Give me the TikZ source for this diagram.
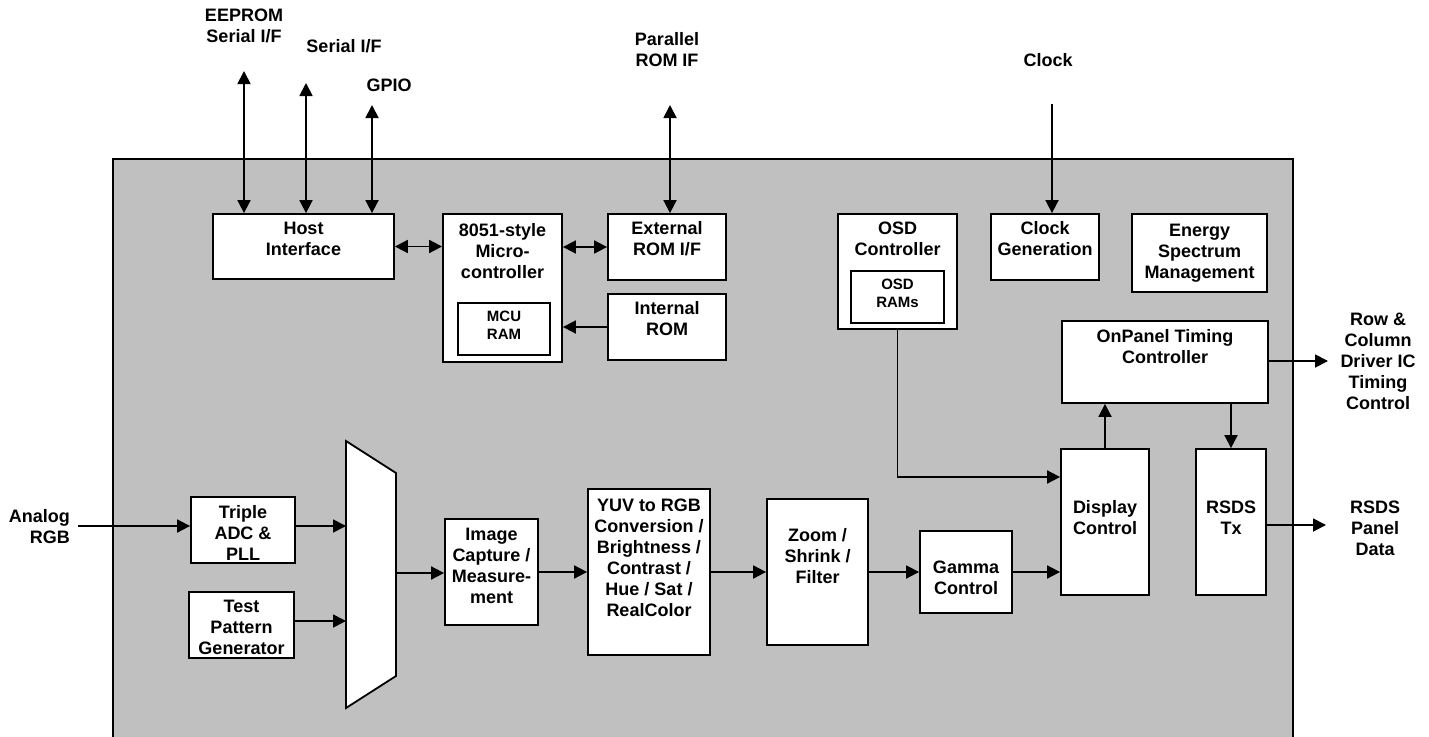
\documentclass[tikz,border=0pt]{standalone}
\usepackage{fontspec}
\setmainfont{Liberation Sans}
\usetikzlibrary{arrows.meta}
\definecolor{panelgray}{HTML}{C0C0C0}
\tikzset{
  box/.style={draw, line width=1.8pt, fill=white, inner sep=0pt},
  txt/.style={inner sep=0pt, align=center, font=\fontsize{18}{21}\selectfont\bfseries},
  smalltxt/.style={inner sep=0pt, align=center, font=\fontsize{15}{18}\selectfont\bfseries},
  arr/.style={line width=1.8pt, -{Triangle[length=13pt,width=13pt]}},
  darr/.style={line width=1.8pt, {Triangle[length=13pt,width=13pt]}-{Triangle[length=13pt,width=13pt]}},
  ln/.style={line width=1.8pt}
}
\begin{document}
\begin{tikzpicture}[x=1pt,y=-1pt]
\useasboundingbox (0,0) rectangle (1429,736);
\begin{scope}
\clip (0,0) rectangle (1429,736);
\draw[line width=1.8pt, fill=panelgray] (113,159) rectangle (1293,760);
\end{scope}

% boxes
\node[box, minimum width=181pt, minimum height=65pt] (host) at (303.5,246.5) {};
\node[box, minimum width=119pt, minimum height=148pt] (mcu) at (502.5,288) {};
\node[box, minimum width=92pt, minimum height=52pt] (mcuram) at (504,329) {};
\node[box, minimum width=118pt, minimum height=66pt] (extrom) at (667,247) {};
\node[box, minimum width=118pt, minimum height=66pt] (introm) at (667,327) {};
\node[box, minimum width=119pt, minimum height=115pt] (osd) at (897.5,271.5) {};
\node[box, minimum width=93pt, minimum height=52pt] (osdram) at (897.5,297) {};
\node[box, minimum width=108pt, minimum height=66pt] (clkgen) at (1045,247) {};
\node[box, minimum width=135pt, minimum height=78pt] (energy) at (1199.5,253) {};
\node[box, minimum width=206pt, minimum height=82pt] (onpanel) at (1165,362) {};
\node[box, minimum width=88pt, minimum height=146pt] (disp) at (1105,522) {};
\node[box, minimum width=70pt, minimum height=146pt] (rsds) at (1231,522) {};
\node[box, minimum width=122pt, minimum height=166pt] (yuv) at (649,572) {};
\node[box, minimum width=101pt, minimum height=146pt] (zoomb) at (817.5,572) {};
\node[box, minimum width=92pt, minimum height=82pt] (gamma) at (966,572) {};
\node[box, minimum width=93pt, minimum height=106pt] (image) at (491.5,572) {};
\node[box, minimum width=104pt, minimum height=66pt] (triple) at (243,530) {};
\node[box, minimum width=105pt, minimum height=66pt] (test) at (241.5,625) {};

% multiplexer
\draw[box] (346,441) -- (396,473) -- (396,676) -- (346,708) -- cycle;
\coordinate (muxin1) at (346,526);
\coordinate (muxin2) at (346,621);
\coordinate (muxout) at (396,573);

% texts inside boxes
\node[txt] (host-t) at (303.5,238.5) {Host\\Interface};
\node[txt] (mcu-t) at (502.5,251) {8051-style\\Micro-\\controller};
\node[smalltxt] (mcuram-t) at (504,325) {MCU\\RAM};
\node[txt] (extrom-t) at (667,238.5) {External\\ROM I/F};
\node[txt] (introm-t) at (667,318.5) {Internal\\ROM};
\node[txt] (osd-t) at (897.5,239) {OSD\\Controller};
\node[smalltxt] (osdram-t) at (897.5,293.5) {OSD\\RAMs};
\node[txt] (clkgen-t) at (1045,239) {Clock\\Generation};
\node[txt] (energy-t) at (1199.5,253) {Energy\\Spectrum\\Management};
\node[txt] (onpanel-t) at (1165,347) {OnPanel Timing\\Controller};
\node[txt] (disp-t) at (1105,518) {Display\\Control};
\node[txt] (rsds-t) at (1231,518) {RSDS\\Tx};
\node[txt] (yuv-t) at (649,558) {YUV to RGB\\Conversion /\\Brightness /\\Contrast /\\Hue / Sat /\\RealColor};
\node[txt] (zoomb-t) at (817.5,556) {Zoom /\\Shrink /\\Filter};
\node[txt] (gamma-t) at (966,578) {Gamma\\Control};
\node[txt] (image-t) at (491.5,566) {Image\\Capture /\\Measure-\\ment};
\node[txt] (triple-t) at (243,533) {Triple\\ADC \&\\PLL};
\node[txt] (test-t) at (241.5,627) {Test\\Pattern\\Generator};

% outside labels
\node[txt] (eep-l) at (244,26) {EEPROM\\Serial I/F};
\node[txt] (ser-l) at (344,46) {Serial I/F};
\node[txt] (gpio-l) at (389,85) {GPIO};
\node[txt] (par-l) at (667,49.5) {Parallel\\ROM IF};
\node[txt] (clk-l) at (1048,60) {Clock};
\node[txt, align=right, anchor=east] (analog-l) at (70,527) {Analog\\RGB};
\node[txt] (row-l) at (1378,361) {Row \&\\Column\\Driver IC\\Timing\\Control};
\node[txt] (rsdsout-l) at (1375,528) {RSDS\\Panel\\Data};

% free ends
\coordinate (eep) at (244,71);
\coordinate (ser) at (306,83);
\coordinate (gpio) at (372,105);
\coordinate (par) at (670,105);
\coordinate (clk) at (1052,104);
\coordinate (ain) at (78,526);
\coordinate (rowout) at (1328,361);
\coordinate (rsdsout) at (1326,525);
\coordinate (osdbend) at (897.5,477);

% connectors
\draw[darr] (eep) -- (eep |- host.north);
\draw[darr] (ser) -- (ser |- host.north);
\draw[darr] (gpio) -- (gpio |- host.north);
\draw[darr] (par) -- (par |- extrom.north);
\draw[arr] (clk) -- (clk |- clkgen.north);
\draw[darr] (host.east) -- (host.east -| mcu.west);
\draw[darr] (mcu.east |- extrom.west) -- (extrom.west);
\draw[arr] (introm.west) -- (introm.west -| mcu.east);
\draw[arr] (osd.south) -- (osdbend) -- (osdbend -| disp.west);
\draw[arr] (disp.north) -- (disp.north |- onpanel.south);
\draw[arr] (rsds.north |- onpanel.south) -- (rsds.north);
\draw[arr] (rowout -| onpanel.east) -- (rowout);
\draw[arr] (rsdsout -| rsds.east) -- (rsdsout);
\draw[arr] (ain) -- (ain -| triple.west);
\draw[arr] (ain -| triple.east) -- (muxin1);
\draw[arr] (muxin2 -| test.east) -- (muxin2);
\draw[arr] (muxout) -- (muxout -| image.west);
\draw[arr] (image.east) -- (yuv.west);
\draw[arr] (yuv.east) -- (zoomb.west);
\draw[arr] (zoomb.east) -- (gamma.west);
\draw[arr] (gamma.east) -- (gamma.east -| disp.west);
\end{tikzpicture}
\end{document}
